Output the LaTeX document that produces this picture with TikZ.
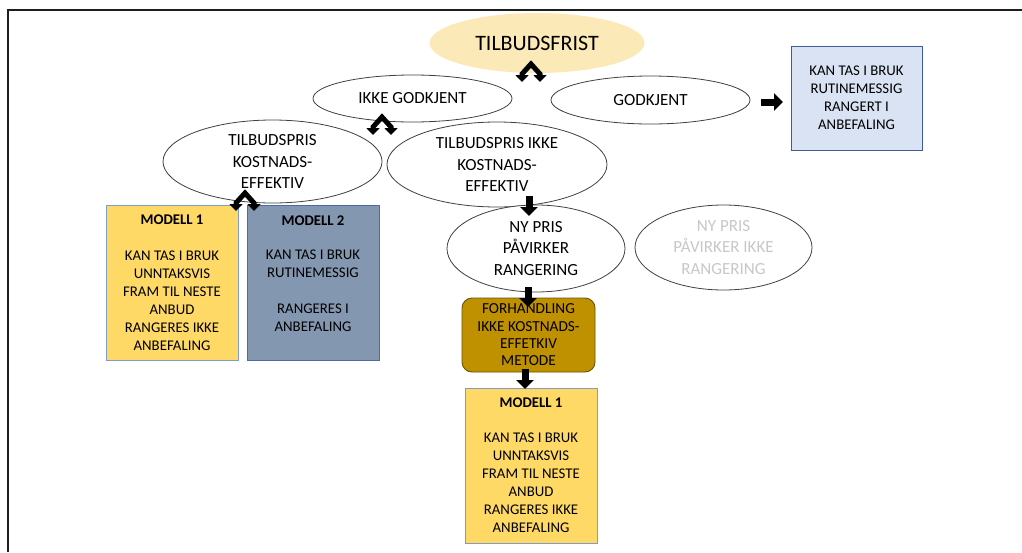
\documentclass[tikz,border=0pt]{standalone}
\usepackage{fontspec}
\setmainfont{Carlito}
\usetikzlibrary{shapes.geometric,arrows.meta}
\definecolor{tfill}{HTML}{FCE9B8}
\definecolor{ellgray}{HTML}{404040}
\definecolor{lblue}{HTML}{DAE3F3}
\definecolor{bblue}{HTML}{3B5C99}
\definecolor{mone}{HTML}{FFD966}
\definecolor{moneb}{HTML}{7F9CCB}
\definecolor{mtwo}{HTML}{8497B0}
\definecolor{mtwob}{HTML}{4A6BA6}
\definecolor{forh}{HTML}{BF9000}
\definecolor{forhb}{HTML}{6B5200}
\definecolor{lgtext}{HTML}{C8C8C8}
\definecolor{frame}{HTML}{1E1E1E}
\tikzset{
  ell/.style={ellipse, draw=ellgray, line width=0.8pt, fill=white, inner sep=0pt, align=center, font=\fontsize{17}{21.5}\selectfont},
  box/.style={rectangle, line width=0.9pt, inner sep=0pt, align=center, font=\fontsize{14.8}{18}\selectfont},
  blockarr/.style={draw=black, line width=7pt, -{Triangle[width=17pt,length=9pt]}},
  splitarr/.style={draw=black, line width=5pt, line join=miter, {Triangle[width=13pt,length=7pt]}-{Triangle[width=13pt,length=7pt]}}
}
\begin{document}
\begin{tikzpicture}[x=1pt,y=-1pt]
\useasboundingbox (0,0) rectangle (1022,552);
\coordinate (fl) at (8,552);
\coordinate (fc) at (8,10);
\coordinate (fr) at (1022,10);
\draw[frame, line width=2pt] (fl) -- (fc) -- (fr);

\node[ell, fill=tfill, draw=none, minimum width=215pt, minimum height=60pt, font=\fontsize{22}{24}\selectfont] (tf) at (537,43) {TILBUDSFRIST};
\node[ell, minimum width=199pt, minimum height=47pt] (ig) at (412.5,98.5) {IKKE GODKJENT};
\node[ell, minimum width=199pt, minimum height=48pt] (gk) at (650.5,100) {GODKJENT};
\node[box, fill=lblue, draw=bblue, minimum width=131pt, minimum height=104pt] (rb) at (856.5,98) {KAN TAS I BRUK\\RUTINEMESSIG\\RANGERT I\\ANBEFALING};
\node[ell, minimum width=219pt, minimum height=83pt] (tk) at (272.5,161.5) {TILBUDSPRIS\\KOSTNADS-\\EFFEKTIV};
\node[ell, minimum width=220pt, minimum height=85pt] (tik) at (497,164.5) {TILBUDSPRIS IKKE\\KOSTNADS-\\EFFEKTIV};
\node[box, fill=mone, draw=moneb, minimum width=132pt, minimum height=155pt] (ma) at (172,282.5) {\textbf{MODELL 1}\\[18pt]KAN TAS I BRUK\\UNNTAKSVIS\\FRAM TIL NESTE\\ANBUD\\RANGERES IKKE\\ANBEFALING};
\node[box, fill=mtwo, draw=mtwob, minimum width=132pt, minimum height=155pt] (mb) at (313,282.5) {\textbf{MODELL 2}\\[16pt]KAN TAS I BRUK\\RUTINEMESSIG\\[18pt]RANGERES I\\ANBEFALING\\~};
\node[ell, minimum width=178pt, minimum height=87pt] (np) at (536,248.5) {NY PRIS\\PÅVIRKER\\RANGERING};
\node[ell, draw=ellgray, text=lgtext, minimum width=177pt, minimum height=85pt] (npi) at (723.5,247.5) {NY PRIS\\PÅVIRKER IKKE\\RANGERING};
\node[box, rounded corners=10pt, fill=forh, draw=forhb, minimum width=133pt, minimum height=74pt, font=\fontsize{15.3}{17.3}\selectfont] (fh) at (528.5,335) {FORHANDLING\\IKKE KOSTNADS-\\EFFETKIV\\METODE};
\node[box, fill=mone, draw=moneb, minimum width=132pt, minimum height=155pt] (mc) at (531,465.5) {\textbf{MODELL 1}\\[17pt]KAN TAS I BRUK\\UNNTAKSVIS\\FRAM TIL NESTE\\ANBUD\\RANGERES IKKE\\ANBEFALING};

% split arrows
\coordinate (s1) at (531,71);
\coordinate (s2) at (382,124);
\coordinate (s3) at (245,200);
\foreach \s in {s1,s2,s3}{
  \draw[splitarr] ([shift={(-9,11)}]\s) -- ([shift={(-9,3)}]\s) -- ([shift={(0,-7)}]\s) -- ([shift={(9,3)}]\s) -- ([shift={(9,11)}]\s);
}
% straight arrows
\coordinate (a1s) at (529,196);
\coordinate (a1e) at (529,216);
\coordinate (a2s) at (528,287);
\coordinate (a2e) at (528,307);
\coordinate (a3s) at (525,369);
\coordinate (a3e) at (525,389);
\coordinate (r1s) at (761,102);
\coordinate (r1e) at (783,102);
\draw[blockarr] (a1s) -- (a1e);
\draw[blockarr] (a2s) -- (a2e);
\draw[blockarr] (a3s) -- (a3e);
\draw[blockarr] (r1s) -- (r1e);
\end{tikzpicture}
\end{document}
